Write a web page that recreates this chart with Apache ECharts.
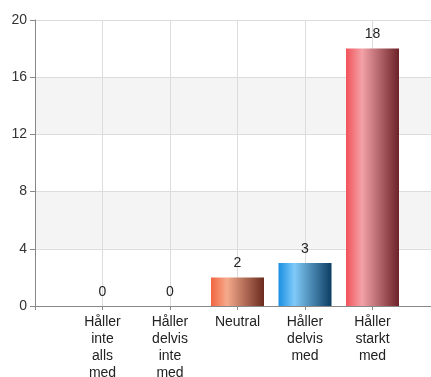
<!DOCTYPE html>
<html>
<head>
<meta charset="utf-8">
<script src="https://cdn.jsdelivr.net/npm/echarts@6/dist/echarts.min.js"></script>
<style>
  html, body { margin: 0; padding: 0; background: #fff; overflow: hidden; }
  #chart { width: 431px; height: 377px; }
</style>
</head>
<body>
<div id="chart"></div>
<script>
// Answer categories and number of responses
const categories = [
  'Håller\ninte\nalls\nmed',
  'Håller\ndelvis\ninte\nmed',
  'Neutral',
  'Håller\ndelvis\nmed',
  'Håller\nstarkt\nmed'
];
const counts = [0, 0, 2, 3, 18];
const yTicks = [0, 4, 8, 12, 16, 20];

// Gradient stops per bar: [left, highlight, right]
const barShades = [
  ['#f2643f', '#f5aa8c', '#6a2b1e'],
  ['#f2643f', '#f5aa8c', '#6a2b1e'],
  ['#f2643f', '#f5aa8c', '#6a2b1e'],
  ['#1a8fe3', '#7fcaf8', '#0c3d63'],
  ['#f2535a', '#f3a2a7', '#6c2228']
];

function shade(c) {
  return new echarts.graphic.LinearGradient(0, 0, 1, 0, [
    { offset: 0, color: c[0] },
    { offset: 0.3, color: c[1] },
    { offset: 1, color: c[2] }
  ]);
}

// Padded with blank slots on both ends so grid lines fall on the bar centres
const axisCats = [''].concat(categories, ['']);
const barData = ['-'].concat(counts.map((v, i) => ({
  value: v,
  itemStyle: { color: shade(barShades[i]) }
})), ['-']);

const font = 'Liberation Sans, Arial, sans-serif';

const chart = echarts.init(document.getElementById('chart'));
chart.setOption({
  animation: false,
  backgroundColor: '#fff',
  grid: { left: 35, width: 405, top: 20, height: 286, outerBoundsMode: 'none', containLabel: false },
  xAxis: {
    type: 'category',
    data: axisCats,
    boundaryGap: false,
    axisLine: { lineStyle: { color: '#888' } },
    axisTick: { show: true, length: 4, lineStyle: { color: '#888' } },
    axisLabel: {
      interval: 0,
      color: '#222',
      fontFamily: font,
      fontSize: 14,
      lineHeight: 17,
      margin: 8
    },
    splitLine: { show: true, lineStyle: { color: '#dcdcdc' } }
  },
  yAxis: {
    type: 'value',
    min: yTicks[0],
    max: yTicks[yTicks.length - 1],
    interval: yTicks[1] - yTicks[0],
    axisLine: { show: true, lineStyle: { color: '#888' } },
    axisTick: { show: true, length: 5, lineStyle: { color: '#888' } },
    axisLabel: {
      color: '#333',
      fontFamily: font,
      fontSize: 14,
      margin: 8
    },
    splitLine: { show: true, lineStyle: { color: '#dcdcdc' } },
    splitArea: { show: true, areaStyle: { color: ['#ffffff', '#f4f4f4'] } }
  },
  series: [{
    type: 'bar',
    data: barData,
    barWidth: 53,
    label: {
      show: true,
      position: 'top',
      distance: 7,
      color: '#222',
      fontFamily: font,
      fontSize: 14
    }
  }]
});
</script>
</body>
</html>
